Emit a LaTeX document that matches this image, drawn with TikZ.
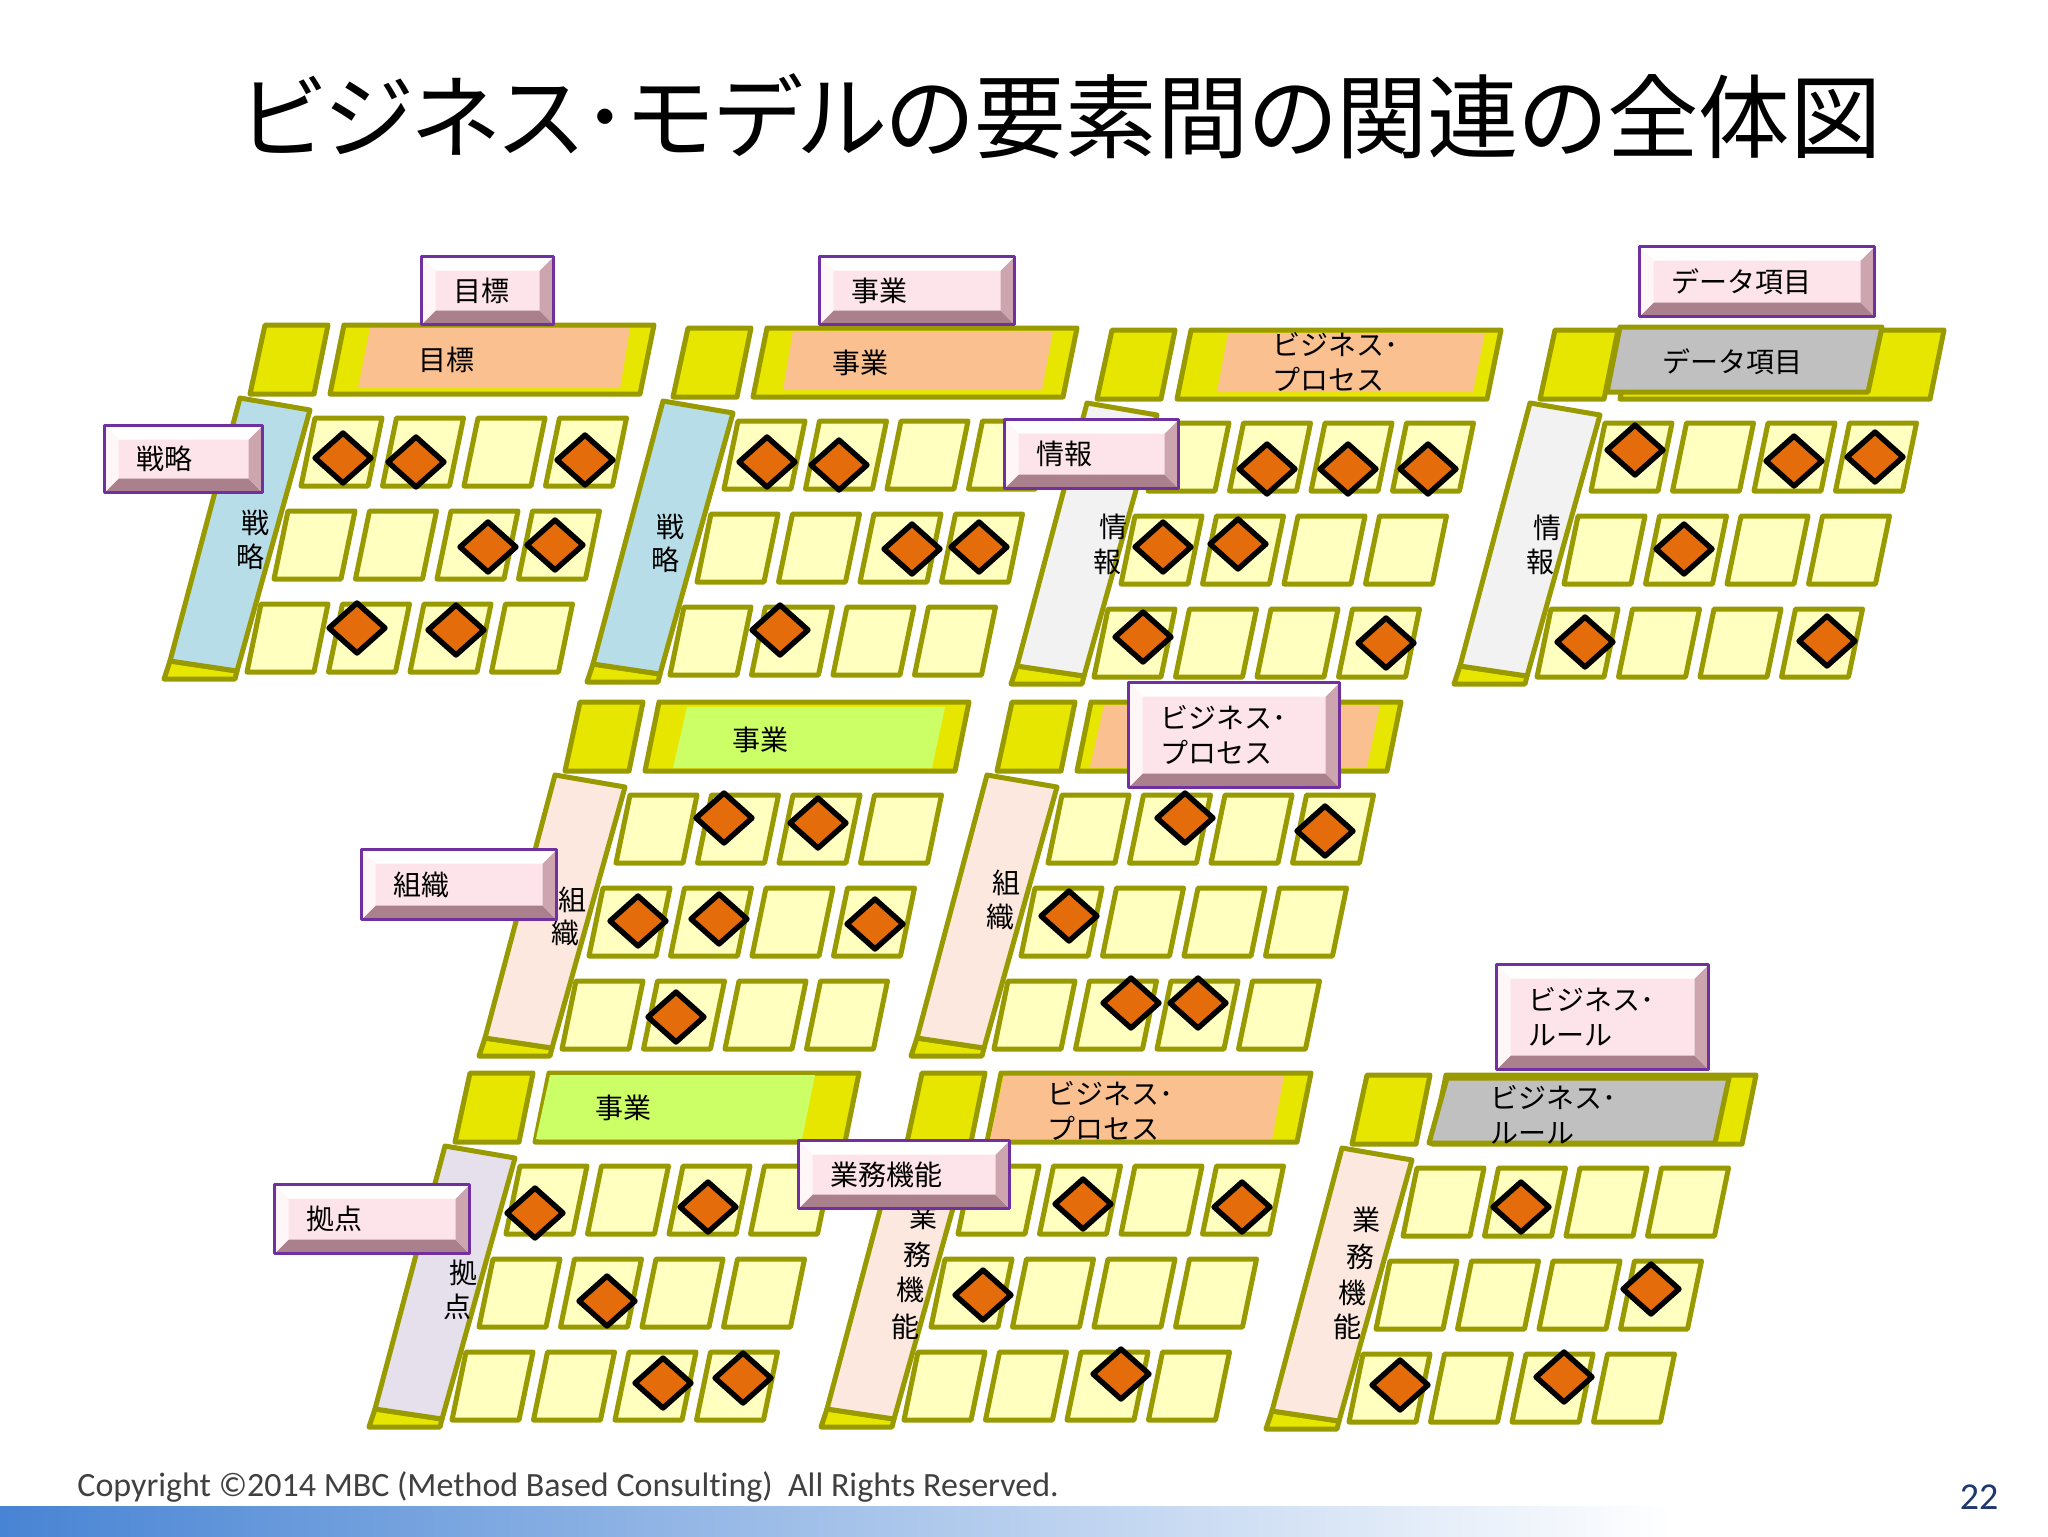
\documentclass[tikz,border=0pt]{standalone}
\usepackage{fontspec}
\newfontfamily\jpfont{Noto Sans CJK JP}
\newfontfamily\jptitle{Noto Sans CJK JP}[RawFeature=+palt]
\newfontfamily\crfont{Carlito}[Ligatures=NoCommon]
\definecolor{olivebd}{RGB}{153,153,0}
\definecolor{hdyellow}{RGB}{230,230,0}
\definecolor{cellyellow}{RGB}{255,255,192}
\definecolor{hdorange}{RGB}{250,192,144}
\definecolor{hdgreen}{RGB}{204,255,102}
\definecolor{hdgray}{RGB}{192,192,192}
\definecolor{sbblue}{RGB}{183,222,232}
\definecolor{sbgray}{RGB}{242,242,242}
\definecolor{sbpeach}{RGB}{252,232,222}
\definecolor{sblav}{RGB}{230,224,236}
\definecolor{dmdorange}{RGB}{228,108,10}
\definecolor{lblpink}{RGB}{252,228,234}
\definecolor{lblpurple}{RGB}{112,48,160}
\definecolor{lbldark}{RGB}{170,128,140}
\definecolor{lblmid}{RGB}{205,165,175}
\definecolor{lbllight}{RGB}{255,246,248}
\definecolor{barblue}{RGB}{72,132,212}
\definecolor{pagenavy}{RGB}{31,56,110}
\definecolor{crgray}{RGB}{64,64,64}
\begin{document}
\begin{tikzpicture}[x=0.5pt,y=-0.5pt,line join=round,
  hd/.style={draw=olivebd,line width=2.5pt,fill=hdyellow},
  sb/.style={draw=olivebd,line width=2.5pt},
  cell/.style={draw=olivebd,line width=2.5pt,fill=cellyellow},
  txt/.style={inner sep=0pt,font=\jpfont\fontsize{14pt}{17.5pt}\selectfont},
  lbl/.style={draw=lblpurple,line width=1.5pt,fill=lblpink,anchor=north west,align=left,
    inner xsep=16pt,inner ysep=0pt,font=\jpfont\fontsize{14pt}{17.5pt}\selectfont,
    path picture={
      \fill[lbldark] (path picture bounding box.south west) -- (path picture bounding box.south east)
        -- ([shift={(-7pt,7pt)}]path picture bounding box.south east) -- ([shift={(7pt,7pt)}]path picture bounding box.south west) -- cycle;
      \fill[lblmid] (path picture bounding box.south east) -- (path picture bounding box.north east)
        -- ([shift={(-7pt,-7pt)}]path picture bounding box.north east) -- ([shift={(-7pt,7pt)}]path picture bounding box.south east) -- cycle;
      \fill[white] (path picture bounding box.north west) -- (path picture bounding box.north east)
        -- ([shift={(-7pt,-7pt)}]path picture bounding box.north east) -- ([shift={(7pt,-7pt)}]path picture bounding box.north west) -- cycle;
      \fill[lbllight] (path picture bounding box.north west) -- (path picture bounding box.south west)
        -- ([shift={(7pt,7pt)}]path picture bounding box.south west) -- ([shift={(7pt,-7pt)}]path picture bounding box.north west) -- cycle;
    }},
  mgrid/.pic={
    \filldraw[hd] (0,0) -- (63,0) -- (49,69) -- (-15,69) -- cycle;
    \filldraw[hd] (79,0) -- (389,0) -- (375,69) -- (65,69) -- cycle;
    \filldraw[hd] (-95,336) -- (-28,346) -- (-30,354) -- (-101,354) -- cycle;
    \filldraw[sb,fill=#1] (-25,73) -- (45,85) -- (-28,346) -- (-95,336) -- cycle;
    \foreach \row in {0,1,2}
      \foreach \col in {0,...,3}
        \filldraw[cell] ({50+81.5*\col-27*\row},{93+93*\row}) -- ++(67,0) -- ++(-14,68) -- ++(-67,0) -- cycle;
  },
  dmd/.pic={\filldraw[draw=black,line width=2.7pt,fill=dmdorange] (-28,0) -- (0,-25) -- (28,0) -- (0,25) -- cycle;}]
\useasboundingbox (0,0) rectangle (2048,1536);
\fill[white] (0,0) rectangle (2048,1536);
%%
\node[anchor=west,inner sep=0pt,font=\jptitle\fontsize{45.7pt}{53pt}\selectfont] (node_title) at (239,116) {ビジネス･モデルの要素間の関連の全体図};
%% top row
\begin{scope}[shift={(265,325)}]
  \pic {mgrid=sbblue};
  \fill[hdorange] (105,3) -- (365,3) -- (355,63) -- (93,63) -- cycle;
  \node[txt] (hd_goal) at (181,35) {目標};
  \node[txt] (sb_a1) at (-10,198) {戦};
  \node[txt] (sb_a2) at (-15,232) {略};
\end{scope}
\begin{scope}[shift={(688,328)}]
  \pic {mgrid=sbblue};
  \fill[hdorange] (105,3) -- (365,3) -- (354,62) -- (95,62) -- cycle;
  \node[txt] (hd_biz_b) at (172,35) {事業};
  \node[txt] (sb_b1) at (-18,199) {戦};
  \node[txt] (sb_b2) at (-23,232) {略};
\end{scope}
\begin{scope}[shift={(1112,330)}]
  \pic {mgrid=sbgray};
  \fill[hdorange] (116,3) -- (373,3) -- (361,62) -- (105,62) -- cycle;
  \node[txt,anchor=west,align=left] (hd_proc_c) at (160,32) {ビジネス･\\プロセス};
  \node[txt] (sb_c1) at (1,197) {情};
  \node[txt] (sb_c2) at (-5,232) {報};
\end{scope}
\begin{scope}[shift={(1555,330)}]
  \pic {mgrid=sbgray};
  \filldraw[hd,fill=hdgray] (65,-3) -- (327,-3) -- (313,62) -- (52,62) -- cycle;
  \node[txt] (hd_data) at (177,32) {データ項目};
  \node[txt] (sb_d1) at (-8,198) {情};
  \node[txt] (sb_d2) at (-15,232) {報};
\end{scope}
%% middle row
\begin{scope}[shift={(580,702)}]
  \pic {mgrid=sbpeach};
  \fill[hdgreen] (107,5) -- (365,5) -- (352,66) -- (93,66) -- cycle;
  \node[txt] (hd_biz_e) at (180,38) {事業};
  \node[txt] (sb_e1) at (-8,198) {組};
  \node[txt] (sb_e2) at (-15,231) {織};
\end{scope}
\begin{scope}[shift={(1012,702)}]
  \pic {mgrid=sbpeach};
  \fill[hdorange] (92,3) -- (368,3) -- (355,65) -- (78,65) -- cycle;
  \node[txt] (sb_f1) at (-6,181) {組};
  \node[txt] (sb_f2) at (-12,215) {織};
\end{scope}
%% bottom row
\begin{scope}[shift={(470,1073)}]
  \pic {mgrid=sblav};
  \fill[hdgreen] (80,2) -- (345,2) -- (332,66) -- (66,66) -- cycle;
  \node[txt] (hd_biz_g) at (153,35) {事業};
  \node[txt] (sb_g1) at (-7,200) {拠};
  \node[txt] (sb_g2) at (-13,234) {点};
\end{scope}
\begin{scope}[shift={(922,1073)}]
  \pic {mgrid=sbpeach};
  \fill[hdorange] (82,3) -- (362,3) -- (350,66) -- (68,66) -- cycle;
  \node[txt,anchor=west,align=left] (hd_proc_h) at (125,38) {ビジネス･\\プロセス};
  \node[txt] (sb_h1) at (1,144) {業};
  \node[txt] (sb_h2) at (-5,182) {務};
  \node[txt] (sb_h3) at (-12,217) {機};
  \node[txt] (sb_h4) at (-17,254) {能};
\end{scope}
\begin{scope}[shift={(1367,1075)}]
  \pic {mgrid=sbpeach};
  \filldraw[hd,fill=hdgray] (80,3) -- (362,3) -- (348,68) -- (62,68) -- cycle;
  \node[txt,anchor=west,align=left] (hd_rule) at (123,40) {ビジネス･\\ルール};
  \node[txt] (sb_i1) at (-1,145) {業};
  \node[txt] (sb_i2) at (-7,182) {務};
  \node[txt] (sb_i3) at (-15,218) {機};
  \node[txt] (sb_i4) at (-20,252) {能};
\end{scope}
%% marks
\foreach \x/\y in {343/458,416/462,585/460,488/547,555/545,357/628,456/630,
    767/462,839/465,912/549,979/547,780/630,
    1267/469,1348/469,1428/469,1163/547,1238/544,1143/637,1386/643,
    1635/450,1794/461,1875/457,1684/549,1585/642,1827/641,
    724/818,818/823,638/921,719/919,875/924,676/1017,
    1185/818,1325/831,1069/916,1131/1003,1198/1003,
    535/1213,708/1207,607/1301,663/1383,743/1378,
    1083/1204,1242/1207,983/1295,1121/1374,
    1521/1207,1651/1289,1400/1385,1564/1377}
  \pic at (\x,\y) {dmd};
%% labels
\node[lbl,text width=34pt,minimum height=34pt] (node_goal) at (420,255) {目標};
\node[lbl,text width=65.5pt,minimum height=34pt] (node_biz) at (818,255) {事業};
\node[lbl,text width=85.5pt,minimum height=35pt] (node_data) at (1638,245) {データ項目};
\node[lbl,text width=47pt,minimum height=33.5pt] (node_strategy) at (103,424) {戦略};
\node[lbl,text width=55pt,minimum height=34.5pt] (node_info) at (1003,418) {情報};
\node[lbl,text width=65.5pt,minimum height=35pt] (node_org) at (360,848) {組織};
\node[lbl,text width=73.5pt,minimum height=52.5pt] (node_process) at (1127,681) {ビジネス･\\プロセス};
\node[lbl,text width=65.5pt,minimum height=34.5pt] (node_site) at (273,1183) {拠点};
\node[lbl,text width=73.5pt,minimum height=34pt] (node_func) at (797,1139) {業務機能};
\node[lbl,text width=74pt,minimum height=52.5pt] (node_rule) at (1495,963) {ビジネス･\\ルール};
%% footer
\shade[left color=barblue,right color=white] (0,1506) rectangle (1672,1536);
\node[anchor=west,inner sep=0pt,text=crgray,font=\crfont\fontsize{17pt}{20pt}\selectfont] (node_copyright) at (77,1487) {Copyright ©2014 MBC (Method Based Consulting)\ \ All Rights Reserved.};
\node[inner sep=0pt,text=pagenavy,font=\crfont\fontsize{19pt}{22pt}\selectfont] (node_page) at (1979,1497) {22};
%
\end{tikzpicture}
\end{document}
